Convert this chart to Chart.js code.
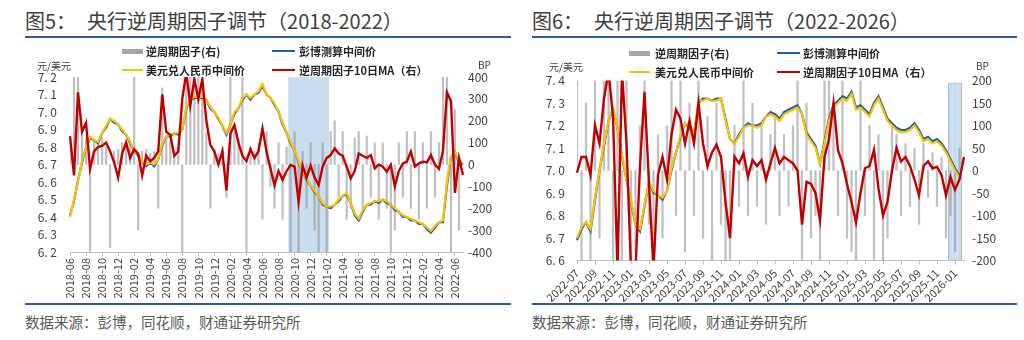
<!DOCTYPE html>
<html>
<head>
<meta charset="utf-8">
<script src="https://cdn.jsdelivr.net/npm/chart.js@4.4.1/dist/chart.umd.min.js"></script>
<style>
  html, body { margin: 0; padding: 0; background: #fff; }
  body { width: 1024px; height: 340px; position: relative; overflow: hidden;
         font-family: "Noto Sans CJK SC", "Noto Sans", sans-serif; }
  .title { position: absolute; top: 6px; font-size: 20px; color: #404040; white-space: nowrap; }
  .title span { margin-left: 11px; }
  .rule { position: absolute; height: 1.5px; background: #2b5ba7; }
  .source { position: absolute; top: 311px; font-size: 14.5px; color: #595959; white-space: nowrap; }
  .cv { position: absolute; top: 40px; }
  .lg { position: absolute; font-size: 11px; line-height: 14px; color: #262626; font-weight: bold; white-space: nowrap; }
  .mk { position: absolute; }
  .unit { position: absolute; font-size: 10px; line-height: 12px; color: #404040; white-space: nowrap; }
</style>
</head>
<body>
<div class="title" style="left:25px">图5：<span>央行逆周期因子调节（2018-2022）</span></div>
<div class="rule" style="left:25px; width:486px; top:36px"></div>
<div class="title" style="left:532px">图6：<span>央行逆周期因子调节（2022-2026）</span></div>
<div class="rule" style="left:532px; width:485px; top:36px"></div>

<canvas id="left" class="cv" width="512" height="262" style="left:0"></canvas>
<canvas id="right" class="cv" width="512" height="262" style="left:512px"></canvas>

<div class="mk" style="left:122px; top:49px; width:21px; height:5px; background:#a6a6a6"></div>
<div class="lg" style="left:146px; top:44px">逆周期因子(右)</div>
<div class="mk" style="left:272px; top:50px; width:23px; height:2px; background:#1f5fb5"></div>
<div class="lg" style="left:299px; top:44px">彭博测算中间价</div>
<div class="mk" style="left:122px; top:69px; width:21px; height:2px; background:#ffc000"></div>
<div class="lg" style="left:146px; top:63px">美元兑人民币中间价</div>
<div class="mk" style="left:272px; top:69px; width:23px; height:2px; background:#c00000"></div>
<div class="lg" style="left:299px; top:63px">逆周期因子10日MA（右）</div>
<div class="unit" style="left:37px; top:60px">元/美元</div>
<div class="unit" style="left:478px; top:59px">BP</div>

<div class="mk" style="left:629px; top:51px; width:21px; height:5px; background:#a6a6a6"></div>
<div class="lg" style="left:655px; top:46px">逆周期因子(右)</div>
<div class="mk" style="left:777px; top:52px; width:23px; height:2px; background:#1f5fb5"></div>
<div class="lg" style="left:803px; top:46px">彭博测算中间价</div>
<div class="mk" style="left:629px; top:71px; width:21px; height:2px; background:#ffc000"></div>
<div class="lg" style="left:655px; top:65px">美元兑人民币中间价</div>
<div class="mk" style="left:777px; top:71px; width:23px; height:2px; background:#c00000"></div>
<div class="lg" style="left:803px; top:65px">逆周期因子10日MA（右）</div>
<div class="unit" style="left:549px; top:61px">元/美元</div>
<div class="unit" style="left:976px; top:60px">BP</div>

<div class="rule" style="left:25px; width:486px; top:303px"></div>
<div class="source" style="left:25px">数据来源：彭博，同花顺，财通证券研究所</div>
<div class="rule" style="left:532px; width:485px; top:303px"></div>
<div class="source" style="left:532px">数据来源：彭博，同花顺，财通证券研究所</div>

<script>
// half-month points, left chart starts 2018-06, right chart starts 2022-07
const leftStart = [2018, 6, 99];
const rightStart = [2022, 7, 87];

const leftFix = [6.40,6.50,6.60,6.72,6.80,6.86,6.84,6.83,6.88,6.92,
  6.96,6.95,6.93,6.90,6.87,6.83,6.78,6.76,6.72,6.70,
  6.71,6.70,6.73,6.82,6.86,6.87,6.88,6.88,6.90,7.03,
  7.07,7.09,7.08,7.09,7.07,7.03,7.00,6.97,6.92,6.88,
  6.93,7.00,7.02,7.08,7.10,7.08,7.10,7.12,7.16,7.10,
  7.08,7.05,7.00,6.94,6.88,6.83,6.78,6.72,6.66,6.62,
  6.58,6.55,6.52,6.48,6.46,6.46,6.47,6.50,6.52,6.54,
  6.48,6.42,6.39,6.44,6.47,6.48,6.49,6.49,6.50,6.49,
  6.47,6.45,6.43,6.41,6.40,6.39,6.38,6.37,6.36,6.34,
  6.32,6.35,6.37,6.38,6.60,6.75,6.77,6.72,6.71];
const leftBbg = [6.41,6.49,6.61,6.71,6.80,6.85,6.84,6.82,6.88,6.91,
  6.96,6.94,6.93,6.89,6.87,6.82,6.78,6.75,6.72,6.69,
  6.71,6.69,6.73,6.81,6.86,6.86,6.88,6.87,6.90,7.02,
  7.07,7.08,7.08,7.08,7.07,7.02,7.00,6.96,6.92,6.87,
  6.93,6.99,7.02,7.07,7.10,7.07,7.10,7.11,7.15,7.10,
  7.08,7.04,7.00,6.93,6.88,6.82,6.78,6.71,6.66,6.61,
  6.58,6.54,6.52,6.47,6.46,6.45,6.47,6.49,6.52,6.53,
  6.48,6.41,6.38,6.43,6.47,6.47,6.49,6.48,6.50,6.48,
  6.47,6.44,6.43,6.40,6.40,6.38,6.38,6.36,6.36,6.33,
  6.31,6.34,6.37,6.37,6.58,6.74,6.77,6.71,6.70];
const leftMA = [130,-50,330,150,190,-20,60,80,85,100,
  60,10,-60,50,100,30,70,50,-50,40,
  15,30,60,320,150,135,40,60,300,420,
  270,390,300,390,200,90,60,0,60,-120,
  140,180,100,40,15,70,30,60,165,60,
  -20,-95,-30,-70,-30,-2,-10,-170,-5,-60,
  -5,-60,-94,-10,30,43,74,50,40,-10,
  -63,-30,50,40,30,43,-17,0,-10,-33,
  -2,-100,-30,5,13,59,-10,5,13,10,
  43,0,-20,60,330,290,-130,30,-48];
const leftFactor = [100,400,400,150,120,-400,110,90,120,80,
  -380,60,70,100,80,90,400,-300,60,70,
  50,60,-200,350,120,110,60,80,-400,400,
  400,400,400,380,150,-200,70,50,80,-150,
  400,150,120,400,-400,80,60,100,-250,150,
  -100,-200,100,-250,80,-400,150,-400,60,-200,
  100,-300,-400,100,-400,150,200,-150,150,-250,
  -200,120,150,-200,130,-150,100,-250,100,-200,
  -400,-300,100,-150,150,-200,150,-250,100,-200,
  150,-150,100,400,400,-400,250,-300,null];
const leftShade = ['2020-09-16', '2021-02-01'];

const rightFix = [6.70,6.75,6.77,6.74,6.88,7.00,7.12,7.22,7.28,7.19,
  7.07,6.96,6.87,6.76,6.74,6.85,6.95,6.91,6.89,6.88,
  6.91,7.01,7.08,7.16,7.21,7.20,7.16,7.31,7.31,7.32,
  7.31,7.31,7.32,7.22,7.14,7.12,7.15,7.19,7.20,7.20,
  7.19,7.20,7.24,7.25,7.24,7.22,7.25,7.26,7.27,7.28,
  7.25,7.16,7.13,7.10,7.03,7.12,7.22,7.28,7.30,7.32,
  7.31,7.34,7.27,7.28,7.26,7.24,7.29,7.32,7.27,7.22,
  7.20,7.18,7.17,7.17,7.18,7.20,7.17,7.13,7.14,7.12,
  7.13,7.11,7.08,7.04,7.00,6.97,null];
const rightBbg = [6.69,6.74,6.77,6.73,6.87,7.00,7.11,7.22,7.27,7.19,
  7.06,6.96,6.86,6.76,6.73,6.84,6.95,6.90,6.89,6.87,
  6.91,7.00,7.08,7.15,7.21,7.19,7.16,7.30,7.32,7.32,
  7.31,7.32,7.32,7.23,7.14,7.12,7.16,7.19,7.21,7.20,
  7.20,7.21,7.24,7.26,7.25,7.23,7.26,7.27,7.28,7.29,
  7.25,7.17,7.14,7.11,7.03,7.13,7.23,7.29,7.31,7.33,
  7.32,7.35,7.28,7.29,7.27,7.25,7.30,7.33,7.28,7.23,
  7.21,7.19,7.18,7.18,7.19,7.21,7.18,7.14,7.15,7.13,
  7.14,7.12,7.09,7.05,7.01,6.98,null];
const rightMA = [-5,30,30,-10,100,60,160,220,120,-220,
  220,60,-220,-220,10,175,-30,-220,-10,30,
  -20,80,135,115,60,110,60,150,60,10,
  40,57,30,-70,-150,31,16,38,-14,23,
  10,23,-20,16,50,16,30,23,16,0,
  -120,-25,-30,-50,-110,30,70,150,45,16,
  -30,-70,-115,-50,5,10,46,-40,-100,-70,
  0,50,20,30,10,-20,-55,10,20,5,
  8,-10,-55,-15,-43,-20,30];
const rightFactor = [200,-200,150,-200,200,-150,200,200,-200,200,
  -200,200,-200,-180,100,200,-120,-200,80,-150,
  100,200,-100,200,-180,150,-100,200,-150,120,
  -200,150,-120,-200,-200,100,-80,200,-100,150,
  -80,100,-120,80,120,-100,80,-80,100,200,
  -200,150,-150,-100,-200,200,200,150,-100,200,
  -150,-180,-200,200,-100,100,-200,80,-200,-150,
  100,80,-100,60,-80,50,-120,60,-60,40,
  -80,30,-150,-100,-180,50,null];
const rightShade = ['2025-12-16', '2026-01-16'];

const FONT = "'Noto Sans CJK SC', 'Noto Sans', sans-serif";

function halfMonths(y, m, n) {
  const out = [];
  for (let i = 0; i < n; i++) {
    const mm = m - 1 + Math.floor(i / 2);
    const yy = y + Math.floor(mm / 12);
    const mo = (mm % 12) + 1;
    out.push(yy + '-' + String(mo).padStart(2, '0') + '-' + (i % 2 ? '16' : '01'));
  }
  return out;
}

function buildChart(id, o) {
  const labels = halfMonths(...o.start);
  const shade = labels.map(l => (l >= o.shade[0] && l <= o.shade[1]) ? [o.y1min, o.shadeTop] : null);
  const inShade = labels.map(l => l >= o.shade[0] && l <= o.shade[1]);

  return new Chart(document.getElementById(id), {
    type: 'bar',
    data: {
      labels: labels,
      datasets: [
        { type: 'line', label: '逆周期因子10日MA（右）', data: o.ma, yAxisID: 'y1',
          borderColor: '#c00000', borderWidth: 2.4, pointRadius: 0, order: 0 },
        { type: 'line', label: '美元兑人民币中间价', data: o.fix, yAxisID: 'y',
          borderColor: '#ffc000', borderWidth: 2.2, pointRadius: 0, order: 1 },
        { type: 'line', label: '彭博测算中间价', data: o.bbg, yAxisID: 'y',
          borderColor: '#1f5fb5', borderWidth: 2.2, pointRadius: 0, order: 2 },
        { type: 'bar', label: '逆周期因子(右)', data: o.factor, yAxisID: 'y1',
          backgroundColor: 'rgba(140,140,140,0.55)', barThickness: 1.6, grouped: false, order: 3 },
        { type: 'bar', label: 'shade', data: shade, yAxisID: 'y1',
          backgroundColor: '#c9ddef', barPercentage: 1, categoryPercentage: 1, grouped: false, order: 4,
          borderColor: '#b0b8c0', borderSkipped: false,
          borderWidth: ctx => {
            if (!o.shadeBorder) return 0;
            const i = ctx.dataIndex;
            return { top: 1, bottom: 0, left: inShade[i - 1] ? 0 : 1, right: inShade[i + 1] ? 0 : 1 };
          } }
      ]
    },
    options: {
      responsive: false,
      animation: false,
      layout: { padding: { top: o.padTop, left: 0, right: 0, bottom: 0 } },
      plugins: { legend: { display: false }, tooltip: { enabled: false } },
      scales: {
        x: {
          type: 'category',
          offset: false,
          grid: { display: true, drawOnChartArea: false, offset: false, tickLength: 4, tickColor: '#bfbfbf' },
          border: { display: true, color: '#bfbfbf' },
          afterBuildTicks: s => { s.ticks = s.ticks.filter(t => t.value % 4 === 0); },
          afterFit: s => { s.height = o.xHeight; },
          ticks: {
            autoSkip: false, maxRotation: o.rot, minRotation: o.rot, padding: 2,
            color: '#404040', font: { size: 11, family: FONT },
            callback(v) { return this.getLabelForValue(v).slice(0, 7); }
          }
        },
        y: {
          position: 'left', min: o.ymin, max: o.ymax,
          afterFit: s => { s.width = o.yWidth; },
          grid: { display: false, drawTicks: false },
          border: { display: false },
          ticks: { stepSize: 0.1, padding: o.yPad, color: '#404040', font: { size: 12, family: FONT },
            callback: v => v.toFixed(1).replace('.', '. ') }
        },
        y1: {
          position: 'right', min: o.y1min, max: o.y1max,
          afterFit: s => { s.width = o.y1Width; },
          grid: { display: false, drawTicks: false },
          border: { display: false },
          ticks: { stepSize: o.y1step, padding: o.y1Pad, color: '#404040', font: { size: 12, family: FONT } }
        }
      }
    }
  });
}

buildChart('left', {
  start: leftStart, fix: leftFix, bbg: leftBbg, ma: leftMA, factor: leftFactor, shade: leftShade,
  ymin: 6.2, ymax: 7.2, y1min: -400, y1max: 400, y1step: 100, shadeTop: 400, shadeBorder: false,
  padTop: 37, yWidth: 70, y1Width: 49, xHeight: 50, rot: 90, yPad: 13, y1Pad: 5
});

buildChart('right', {
  start: rightStart, fix: rightFix, bbg: rightBbg, ma: rightMA, factor: rightFactor, shade: rightShade,
  ymin: 6.6, ymax: 7.4, y1min: -200, y1max: 200, y1step: 50, shadeTop: 195, shadeBorder: true,
  padTop: 40.5, yWidth: 65, y1Width: 60, xHeight: 41.5, rot: 45, yPad: 12, y1Pad: 8
});
</script>
</body>
</html>
